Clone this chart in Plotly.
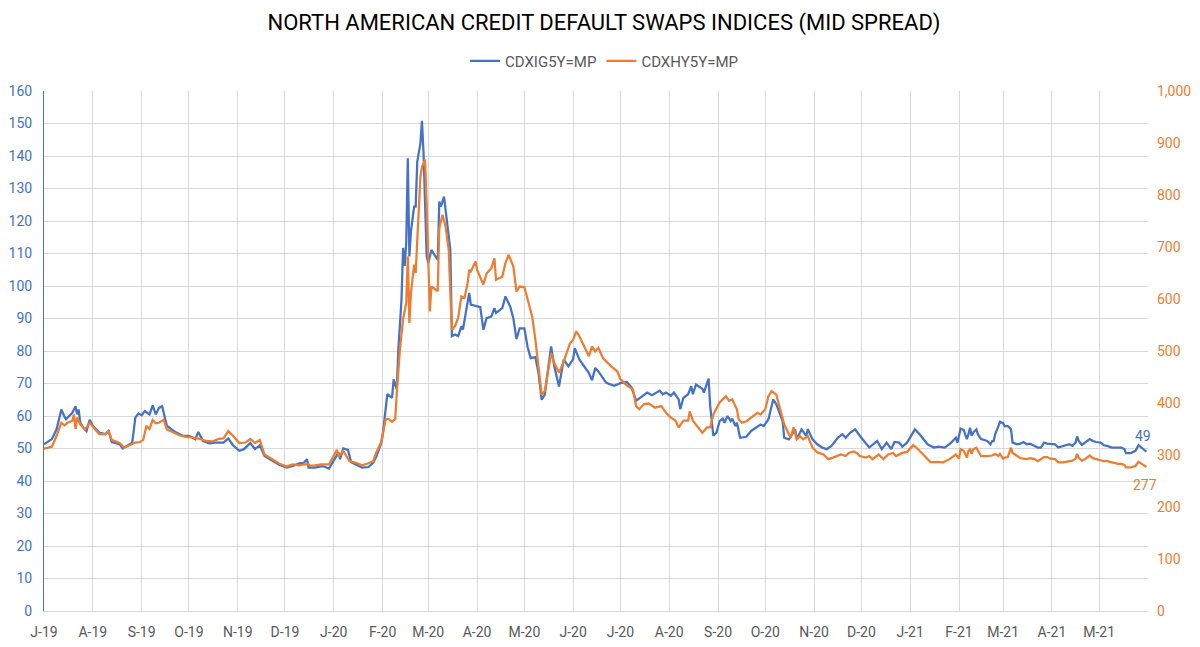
import plotly.graph_objs as go

# CDX IG 5Y mid spread (left axis)
ig_dates = [
    "2019-07-01", "2019-07-06", "2019-07-09", "2019-07-12", "2019-07-14", "2019-07-15", "2019-07-19",
    "2019-07-21", "2019-07-22", "2019-07-23", "2019-07-24", "2019-07-26", "2019-07-28", "2019-07-30",
    "2019-08-01", "2019-08-05", "2019-08-09", "2019-08-11", "2019-08-13", "2019-08-18", "2019-08-20",
    "2019-08-23", "2019-08-26", "2019-08-28", "2019-08-30", "2019-09-01", "2019-09-03", "2019-09-06",
    "2019-09-08", "2019-09-10", "2019-09-12", "2019-09-14", "2019-09-17", "2019-09-20", "2019-09-23",
    "2019-09-27", "2019-10-01", "2019-10-05", "2019-10-07", "2019-10-10", "2019-10-14", "2019-10-18",
    "2019-10-23", "2019-10-26", "2019-10-29", "2019-11-02", "2019-11-05", "2019-11-09", "2019-11-12",
    "2019-11-15", "2019-11-18", "2019-11-22", "2019-11-27", "2019-12-02", "2019-12-06", "2019-12-10",
    "2019-12-13", "2019-12-15", "2019-12-16", "2019-12-20", "2019-12-25", "2019-12-29", "2020-01-02",
    "2020-01-04", "2020-01-05", "2020-01-07", "2020-01-10", "2020-01-12", "2020-01-15", "2020-01-19",
    "2020-01-23", "2020-01-26", "2020-01-28", "2020-01-31", "2020-02-01", "2020-02-04", "2020-02-07",
    "2020-02-08", "2020-02-10", "2020-02-11", "2020-02-13", "2020-02-14", "2020-02-15", "2020-02-16",
    "2020-02-17", "2020-02-18", "2020-02-19", "2020-02-21", "2020-02-22", "2020-02-23", "2020-02-25",
    "2020-02-26", "2020-02-27", "2020-02-29", "2020-03-01", "2020-03-03", "2020-03-07", "2020-03-08",
    "2020-03-09", "2020-03-11", "2020-03-12", "2020-03-15", "2020-03-16", "2020-03-18", "2020-03-20",
    "2020-03-22", "2020-03-23", "2020-03-25", "2020-03-27", "2020-03-28", "2020-03-31", "2020-04-03",
    "2020-04-05", "2020-04-07", "2020-04-10", "2020-04-12", "2020-04-13", "2020-04-17", "2020-04-19",
    "2020-04-22", "2020-04-24", "2020-04-26", "2020-04-28", "2020-05-01", "2020-05-03", "2020-05-05",
    "2020-05-08", "2020-05-10", "2020-05-12", "2020-05-14", "2020-05-16", "2020-05-18", "2020-05-20",
    "2020-05-23", "2020-05-26", "2020-05-29", "2020-06-01", "2020-06-02", "2020-06-05", "2020-06-08",
    "2020-06-11", "2020-06-13", "2020-06-15", "2020-06-17", "2020-06-19", "2020-06-22", "2020-06-27",
    "2020-07-01", "2020-07-05", "2020-07-08", "2020-07-11", "2020-07-13", "2020-07-16", "2020-07-18",
    "2020-07-21", "2020-07-23", "2020-07-26", "2020-07-28", "2020-07-30", "2020-08-02", "2020-08-04",
    "2020-08-07", "2020-08-08", "2020-08-10", "2020-08-13", "2020-08-15", "2020-08-16", "2020-08-18",
    "2020-08-22", "2020-08-23", "2020-08-26", "2020-08-27", "2020-08-29", "2020-08-31", "2020-09-02",
    "2020-09-04", "2020-09-05", "2020-09-07", "2020-09-09", "2020-09-10", "2020-09-12", "2020-09-13",
    "2020-09-15", "2020-09-19", "2020-09-22", "2020-09-25", "2020-09-28", "2020-09-30", "2020-10-03",
    "2020-10-06", "2020-10-08", "2020-10-12", "2020-10-13", "2020-10-16", "2020-10-18", "2020-10-20",
    "2020-10-21", "2020-10-24", "2020-10-27", "2020-10-28", "2020-10-31", "2020-11-03", "2020-11-06",
    "2020-11-09", "2020-11-12", "2020-11-16", "2020-11-19", "2020-11-21", "2020-11-24", "2020-11-27",
    "2020-12-01", "2020-12-06", "2020-12-11", "2020-12-14", "2020-12-17", "2020-12-20", "2020-12-22",
    "2020-12-25", "2020-12-27", "2020-12-30", "2021-01-04", "2021-01-07", "2021-01-12", "2021-01-16",
    "2021-01-19", "2021-01-23", "2021-01-27", "2021-01-30", "2021-01-31", "2021-02-02", "2021-02-04",
    "2021-02-06", "2021-02-07", "2021-02-08", "2021-02-09", "2021-02-10", "2021-02-12", "2021-02-13",
    "2021-02-15", "2021-02-17", "2021-02-19", "2021-02-21", "2021-02-22", "2021-02-23", "2021-02-24",
    "2021-02-26", "2021-02-27", "2021-03-01", "2021-03-02", "2021-03-04", "2021-03-06", "2021-03-07",
    "2021-03-10", "2021-03-12", "2021-03-14", "2021-03-16", "2021-03-18", "2021-03-21", "2021-03-23",
    "2021-03-25", "2021-03-27", "2021-03-29", "2021-04-01", "2021-04-03", "2021-04-05", "2021-04-08",
    "2021-04-12", "2021-04-14", "2021-04-16", "2021-04-17", "2021-04-18", "2021-04-20", "2021-04-22",
    "2021-04-25", "2021-04-27", "2021-04-29", "2021-05-02", "2021-05-04", "2021-05-06", "2021-05-09",
    "2021-05-11", "2021-05-13", "2021-05-15", "2021-05-17", "2021-05-18", "2021-05-21", "2021-05-24",
    "2021-05-26", "2021-05-28", "2021-05-30", "2021-05-31",
]
ig = [
    51.3, 52.9, 55.9, 62.0, 59.8, 59.0, 61.0,
    63.0, 60.5, 62.0, 58.0, 56.4, 55.4, 58.8,
    57.0, 54.9, 54.4, 55.4, 52.0, 51.3, 50.0,
    50.8, 51.8, 59.5, 60.8, 60.2, 61.5, 60.5,
    63.3, 60.5, 62.5, 63.0, 57.0, 55.9, 54.9,
    53.9, 53.9, 52.9, 55.1, 52.3, 51.6, 51.8,
    51.8, 53.1, 51.0, 49.3, 49.8, 51.7, 49.8,
    51.0, 47.7, 46.5, 45.1, 44.1, 44.6, 45.4,
    45.6, 46.7, 44.1, 44.1, 44.6, 43.8, 47.2,
    48.8, 46.7, 50.0, 49.6, 45.8, 45.1, 44.1,
    44.3, 45.6, 47.5, 51.5, 53.9, 66.7, 65.6,
    71.3, 68.2, 80.5, 95.8, 111.7, 106.2, 113.2,
    139.3, 109.1, 116.8, 124.4, 124.4, 138.2, 143.9,
    150.8, 140.8, 109.1, 107.0, 111.1, 108.0, 126.0,
    124.4, 127.5, 123.4, 111.1, 84.6, 85.1, 84.6,
    87.6, 86.6, 91.7, 97.9, 94.3, 93.8, 93.5,
    86.5, 90.1, 90.6, 93.2, 91.7, 93.2, 96.8,
    93.7, 90.1, 83.7, 87.0, 87.0, 81.4, 77.8,
    78.1, 73.2, 65.0, 66.6, 74.3, 81.4, 75.3,
    69.1, 77.3, 75.3, 77.5, 80.9, 77.3, 75.3,
    73.2, 71.0, 74.8, 73.7, 72.2, 70.2, 69.3,
    70.1, 70.5, 68.8, 64.7, 65.4, 66.7, 67.2,
    66.4, 67.0, 67.8, 66.7, 67.2, 66.2, 67.2,
    65.1, 62.1, 65.6, 66.7, 69.2, 66.7, 69.7,
    68.4, 67.2, 71.5, 63.1, 53.9, 54.9, 58.4,
    59.2, 57.9, 60.0, 58.4, 59.2, 56.9, 57.9,
    53.3, 53.6, 55.4, 56.4, 57.4, 56.9, 59.0,
    65.1, 63.6, 58.4, 53.3, 52.8, 54.4, 55.9,
    52.8, 55.9, 53.9, 55.9, 52.8, 51.3, 50.3,
    49.8, 50.8, 53.3, 54.4, 53.3, 54.9, 55.9,
    53.3, 50.3, 52.3, 49.8, 51.8, 49.8, 52.0,
    51.8, 50.6, 51.8, 55.9, 54.4, 51.3, 50.3,
    50.6, 50.3, 51.8, 53.3, 51.8, 56.1, 55.7,
    52.9, 54.4, 56.4, 53.9, 54.9, 55.9, 54.4,
    52.9, 52.6, 52.3, 51.3, 52.3, 52.3, 54.4,
    56.9, 58.2, 57.8, 56.9, 56.9, 55.9, 51.8,
    51.3, 51.5, 52.0, 51.3, 51.5, 50.8, 50.3,
    50.3, 51.8, 51.5, 51.5, 51.3, 50.3, 50.8,
    51.3, 50.8, 51.8, 53.7, 52.3, 51.1, 51.8,
    52.9, 52.3, 52.0, 51.8, 51.0, 50.8, 50.3,
    50.3, 50.3, 50.3, 49.8, 48.6, 48.6, 49.3,
    51.0, 50.3, 49.5, 49.0,
]

# CDX HY 5Y mid spread (right axis)
hy_dates = [
    "2019-07-01", "2019-07-06", "2019-07-09", "2019-07-12", "2019-07-14", "2019-07-16", "2019-07-19",
    "2019-07-20", "2019-07-21", "2019-07-22", "2019-07-24", "2019-07-27", "2019-07-30", "2019-08-01",
    "2019-08-05", "2019-08-09", "2019-08-11", "2019-08-13", "2019-08-18", "2019-08-21", "2019-08-24",
    "2019-08-28", "2019-08-31", "2019-09-02", "2019-09-04", "2019-09-06", "2019-09-08", "2019-09-10",
    "2019-09-12", "2019-09-15", "2019-09-17", "2019-09-21", "2019-09-25", "2019-09-29", "2019-10-03",
    "2019-10-08", "2019-10-12", "2019-10-16", "2019-10-20", "2019-10-23", "2019-10-26", "2019-10-29",
    "2019-11-02", "2019-11-06", "2019-11-09", "2019-11-12", "2019-11-15", "2019-11-18", "2019-11-22",
    "2019-11-27", "2019-12-02", "2019-12-06", "2019-12-10", "2019-12-13", "2019-12-16", "2019-12-17",
    "2019-12-20", "2019-12-24", "2019-12-29", "2020-01-01", "2020-01-03", "2020-01-04", "2020-01-07",
    "2020-01-09", "2020-01-11", "2020-01-15", "2020-01-19", "2020-01-23", "2020-01-26", "2020-01-28",
    "2020-01-31", "2020-02-03", "2020-02-05", "2020-02-07", "2020-02-09", "2020-02-10", "2020-02-12",
    "2020-02-14", "2020-02-16", "2020-02-17", "2020-02-18", "2020-02-19", "2020-02-21", "2020-02-22",
    "2020-02-23", "2020-02-25", "2020-02-26", "2020-02-28", "2020-02-29", "2020-03-01", "2020-03-02",
    "2020-03-03", "2020-03-06", "2020-03-07", "2020-03-08", "2020-03-10", "2020-03-12", "2020-03-14",
    "2020-03-15", "2020-03-16", "2020-03-18", "2020-03-20", "2020-03-22", "2020-03-24", "2020-03-26",
    "2020-03-27", "2020-03-28", "2020-03-31", "2020-04-01", "2020-04-05", "2020-04-07", "2020-04-10",
    "2020-04-12", "2020-04-13", "2020-04-17", "2020-04-19", "2020-04-21", "2020-04-24", "2020-04-26",
    "2020-04-28", "2020-05-01", "2020-05-03", "2020-05-06", "2020-05-08", "2020-05-10", "2020-05-12",
    "2020-05-14", "2020-05-16", "2020-05-18", "2020-05-20", "2020-05-23", "2020-05-26", "2020-05-30",
    "2020-06-01", "2020-06-03", "2020-06-05", "2020-06-08", "2020-06-11", "2020-06-13", "2020-06-15",
    "2020-06-17", "2020-06-20", "2020-06-25", "2020-06-29", "2020-07-01", "2020-07-05", "2020-07-09",
    "2020-07-11", "2020-07-13", "2020-07-16", "2020-07-19", "2020-07-23", "2020-07-27", "2020-07-30",
    "2020-08-02", "2020-08-05", "2020-08-07", "2020-08-10", "2020-08-13", "2020-08-14", "2020-08-16",
    "2020-08-18", "2020-08-22", "2020-08-25", "2020-08-27", "2020-08-29", "2020-09-02", "2020-09-04",
    "2020-09-06", "2020-09-08", "2020-09-10", "2020-09-12", "2020-09-13", "2020-09-14", "2020-09-16",
    "2020-09-19", "2020-09-23", "2020-09-26", "2020-09-28", "2020-10-01", "2020-10-03", "2020-10-05",
    "2020-10-08", "2020-10-11", "2020-10-13", "2020-10-17", "2020-10-19", "2020-10-21", "2020-10-23",
    "2020-10-25", "2020-10-28", "2020-10-31", "2020-11-03", "2020-11-07", "2020-11-10", "2020-11-13",
    "2020-11-18", "2020-11-21", "2020-11-23", "2020-11-26", "2020-11-28", "2020-11-30", "2020-12-04",
    "2020-12-06", "2020-12-08", "2020-12-12", "2020-12-15", "2020-12-18", "2020-12-21", "2020-12-23",
    "2020-12-27", "2020-12-30", "2021-01-03", "2021-01-06", "2021-01-10", "2021-01-14", "2021-01-18",
    "2021-01-22", "2021-01-26", "2021-01-30", "2021-02-01", "2021-02-02", "2021-02-04", "2021-02-06",
    "2021-02-07", "2021-02-08", "2021-02-09", "2021-02-10", "2021-02-12", "2021-02-13", "2021-02-15",
    "2021-02-19", "2021-02-22", "2021-02-24", "2021-02-26", "2021-02-27", "2021-03-01", "2021-03-02",
    "2021-03-04", "2021-03-06", "2021-03-07", "2021-03-10", "2021-03-12", "2021-03-14", "2021-03-16",
    "2021-03-18", "2021-03-21", "2021-03-23", "2021-03-25", "2021-03-27", "2021-03-29", "2021-03-31",
    "2021-04-03", "2021-04-05", "2021-04-08", "2021-04-12", "2021-04-14", "2021-04-16", "2021-04-17",
    "2021-04-18", "2021-04-20", "2021-04-22", "2021-04-25", "2021-04-27", "2021-04-29", "2021-05-02",
    "2021-05-04", "2021-05-06", "2021-05-09", "2021-05-11", "2021-05-13", "2021-05-15", "2021-05-17",
    "2021-05-18", "2021-05-21", "2021-05-24", "2021-05-26", "2021-05-28", "2021-05-30", "2021-05-31",
]
hy = [
    312, 316, 337, 362, 357, 362, 366,
    378, 350, 372, 359, 349, 362, 354,
    340, 340, 347, 329, 323, 314, 318,
    324, 325, 329, 356, 350, 367, 361,
    362, 368, 349, 344, 338, 335, 334,
    331, 327, 326, 331, 332, 346, 337,
    323, 324, 331, 323, 329, 301, 293,
    284, 278, 282, 280, 282, 282, 279,
    280, 282, 282, 298, 310, 297, 308,
    298, 288, 285, 280, 284, 288, 305,
    324, 369, 369, 364, 369, 420, 503,
    561, 593, 682, 554, 612, 666, 650,
    714, 835, 854, 868, 778, 694, 576,
    624, 618, 615, 736, 762, 739, 694,
    612, 541, 548, 564, 605, 602, 631,
    656, 653, 672, 656, 628, 649, 659,
    678, 637, 643, 669, 685, 663, 614,
    624, 623, 599, 566, 522, 471, 416,
    423, 464, 496, 477, 458, 480, 515,
    522, 538, 528, 509, 490, 509, 499,
    506, 486, 471, 461, 446, 434, 426,
    394, 388, 398, 399, 391, 394, 381,
    372, 366, 353, 366, 366, 384, 366,
    359, 343, 353, 353, 378, 401, 407,
    413, 404, 407, 394, 388, 369, 362,
    365, 375, 381, 378, 388, 413, 423,
    416, 381, 359, 333, 353, 330, 336,
    330, 336, 314, 305, 301, 292, 295,
    301, 298, 304, 307, 304, 298, 295,
    298, 292, 301, 292, 301, 304, 298,
    304, 306, 319, 311, 298, 286, 287,
    286, 292, 301, 293, 311, 308, 295,
    308, 311, 302, 311, 314, 308, 298,
    298, 299, 302, 298, 302, 293, 295,
    296, 314, 304, 298, 294, 293, 292,
    294, 292, 288, 292, 296, 296, 293,
    292, 286, 286, 288, 289, 293, 302,
    295, 289, 292, 299, 294, 292, 290,
    288, 288, 286, 284, 283, 283, 281,
    276, 276, 279, 287, 283, 279, 277,
]

month_ticks = [
    "2019-07-01", "2019-08-01", "2019-09-01", "2019-10-01", "2019-11-01", "2019-12-01",
    "2020-01-01", "2020-02-01", "2020-03-01", "2020-04-01", "2020-05-01", "2020-06-01",
    "2020-07-01", "2020-08-01", "2020-09-01", "2020-10-01", "2020-11-01", "2020-12-01",
    "2021-01-01", "2021-02-01", "2021-03-01", "2021-04-01", "2021-05-01",
]
month_labels = [
    "J-19", "A-19", "S-19", "O-19", "N-19", "D-19",
    "J-20", "F-20", "M-20", "A-20", "M-20", "J-20",
    "J-20", "A-20", "S-20", "O-20", "N-20", "D-20",
    "J-21", "F-21", "M-21", "A-21", "M-21",
]

BLUE = "#4472C4"
ORANGE = "#ED7D31"
GRID = "#D9D9D9"
FONT = "Roboto"

trace0 = go.Scatter(
    x=ig_dates, y=ig, name="CDXIG5Y=MP", mode="lines",
    line=dict(color=BLUE, width=2.25), yaxis="y"
)
trace1 = go.Scatter(
    x=hy_dates, y=hy, name="CDXHY5Y=MP", mode="lines",
    line=dict(color=ORANGE, width=2.25), yaxis="y2"
)

# page body has an 8px margin, so the figure is sized to end at the window edge
W, H = 1192, 639

layout = go.Layout(
    width=W, height=H,
    paper_bgcolor="white", plot_bgcolor="white",
    margin=dict(l=36, r=52, t=83, b=36, autoexpand=False),
    font=dict(family=FONT, color="#595959"),
    title=dict(
        text="NORTH AMERICAN CREDIT DEFAULT SWAPS INDICES (MID SPREAD)",
        x=0.5, xref="container", xanchor="center",
        y=1 - 14 / H, yref="container", yanchor="middle",
        font=dict(family=FONT, size=22, color="#000000")
    ),
    showlegend=True,
    legend=dict(
        orientation="h", x=0.5, xref="container", xanchor="center",
        y=1 - 53 / H, yref="container", yanchor="middle",
        font=dict(size=15, color="#595959"), itemwidth=30
    ),
    xaxis=dict(
        type="date", range=["2019-07-01", "2021-06-01"],
        tickvals=month_ticks, ticktext=month_labels,
        showgrid=True, gridcolor=GRID, gridwidth=1,
        showline=True, linecolor=GRID, linewidth=1,
        ticks="", tickfont=dict(size=14, color="#595959"),
        ticklabelstandoff=8
    ),
    yaxis=dict(
        range=[0, 160], dtick=10, showgrid=True, gridcolor=GRID, gridwidth=1,
        zeroline=False, showline=True, linecolor=BLUE, linewidth=1,
        ticks="", tickfont=dict(size=14, color=BLUE), ticklabelstandoff=8
    ),
    yaxis2=dict(
        range=[0, 1000], dtick=100, overlaying="y", side="right",
        showgrid=False, zeroline=False, showline=False,
        ticks="", tickformat=",", tickfont=dict(size=14, color=ORANGE),
        ticklabelstandoff=8
    ),
    annotations=[
        dict(x=ig_dates[-1], y=ig[-1], xref="x", yref="y", text=str(round(ig[-1])),
             showarrow=False, xanchor="center", yanchor="bottom", xshift=-3, yshift=6,
             font=dict(size=14, color=BLUE)),
        dict(x=hy_dates[-1], y=hy[-1], xref="x", yref="y2", text=str(round(hy[-1])),
             showarrow=False, xanchor="center", yanchor="top", xshift=-1, yshift=-8,
             font=dict(size=14, color=ORANGE)),
    ],
)

fig = go.Figure(data=[trace0, trace1], layout=layout)
fig.write_html("out.html")
